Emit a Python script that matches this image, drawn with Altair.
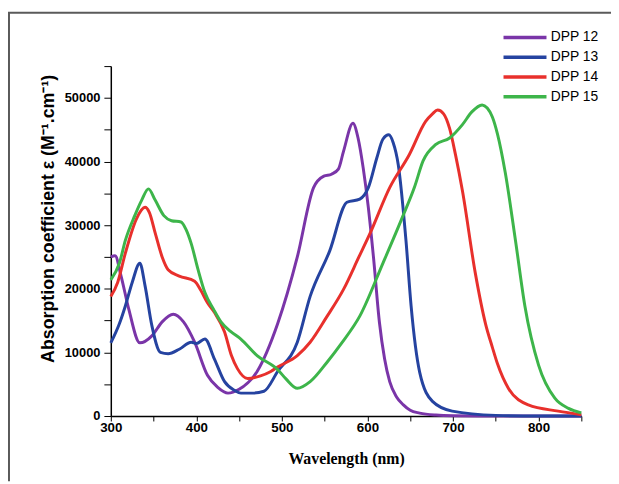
import altair as alt
import pandas as pd

# ---- data ----
wl_12 = [300, 305, 312, 321, 334, 348, 360, 373, 385, 398, 413, 425, 437, 450, 471, 495, 518, 537, 549, 558, 566, 572, 583, 589, 595, 601, 607, 614, 620, 626, 634, 642, 650, 661, 680, 700, 750, 800, 850]
ab_12 = [25000, 25200, 22000, 16800, 11500, 12600, 14800, 16000, 14800, 11600, 6400, 4500, 3600, 4200, 7000, 14500, 25000, 35900, 37700, 38000, 38800, 41600, 46000, 43700, 39000, 32800, 25000, 14700, 9000, 5400, 3000, 1760, 900, 460, 150, 50, 0, 0, 0]

wl_13 = [300, 310, 317, 325, 334, 340, 348, 358, 367, 380, 394, 400, 410, 421, 433, 445, 452, 465, 479, 495, 518, 533, 556, 576, 591, 601, 611, 618, 625, 630, 636, 645, 651, 661, 676, 699, 750, 800, 850]
ab_13 = [11500, 14500, 17300, 21000, 24000, 20500, 14200, 10000, 9800, 10500, 11600, 11400, 12100, 9000, 5400, 4000, 3600, 3600, 3900, 7000, 11600, 18800, 26000, 33600, 34100, 35900, 40600, 43500, 44200, 43000, 39500, 27600, 17300, 6900, 2300, 770, 100, 0, 0]

wl_14 = [300, 308, 317, 330, 340, 345, 352, 360, 367, 380, 398, 405, 413, 421, 433, 441, 448, 460, 475, 487, 495, 518, 533, 552, 572, 590, 603, 626, 649, 668, 676, 682, 689, 696, 703, 711, 726, 738, 746, 752, 765, 788, 823, 850]
ab_14 = [18800, 21000, 25600, 31000, 32800, 32000, 28700, 25000, 23000, 22000, 21200, 19800, 17800, 16300, 13200, 9500, 7450, 5900, 6300, 7000, 7700, 9500, 11600, 15500, 19900, 25000, 28700, 35900, 41100, 46300, 47500, 48100, 47500, 45200, 41000, 35400, 22500, 14500, 10800, 8200, 4300, 1750, 770, 200]

wl_15 = [300, 310, 317, 328, 336, 344, 352, 362, 371, 382, 388, 394, 402, 410, 420, 429, 440, 452, 471, 495, 505, 518, 533, 553, 570, 591, 618, 641, 655, 665, 680, 696, 711, 722, 734, 740, 746, 752, 761, 773, 784, 800, 819, 835, 850]
ab_15 = [21400, 24000, 27600, 31500, 33900, 35700, 33900, 31500, 30700, 30500, 29300, 27100, 23000, 19400, 16800, 14750, 13300, 12100, 9500, 7300, 5800, 4350, 5400, 8500, 11500, 15700, 24000, 31300, 36000, 40100, 42700, 43700, 45800, 47800, 48900, 48400, 47000, 44300, 38300, 27600, 17300, 8000, 2800, 1200, 500]

series_names = ["DPP 12", "DPP 13", "DPP 14", "DPP 15"]
series_colors = ["#7A35A8", "#2543A0", "#E8302C", "#3DB54A"]

x_ticks = list(range(300, 851, 50))
y_ticks = list(range(0, 55001, 5000))

rows = []
for name, wls, abs_ in zip(series_names, [wl_12, wl_13, wl_14, wl_15], [ab_12, ab_13, ab_14, ab_15]):
    for w, a in zip(wls, abs_):
        rows.append({"series": name, "wl": w, "abs": a})
df = pd.DataFrame(rows)

serif = "Liberation Serif"
sans = "Liberation Sans"

lines = alt.Chart(df).mark_line(strokeWidth=3, interpolate="monotone").encode(
    x=alt.X("wl:Q", scale=alt.Scale(domain=[300, 850], nice=False, zero=False),
            axis=alt.Axis(title="Wavelength (nm)", values=x_ticks,
                          labelExpr="datum.value % 100 == 0 ? datum.label : ''",
                          grid=False, tickSize=5, labelPadding=0, titlePadding=17,
                          labelFlush=False,
                          labelFont=sans, labelFontWeight="bold", labelFontSize=13.5,
                          titleFont=serif, titleFontWeight="bold", titleFontSize=16,
                          domainColor="#000", tickColor="#000", domainWidth=1.5, labelColor="#000", titleColor="#000")),
    y=alt.Y("abs:Q", scale=alt.Scale(domain=[0, 55000], nice=False),
            axis=alt.Axis(title="Absorption coefficient ε (M⁻¹.cm⁻¹)", values=y_ticks,
                          labelExpr="datum.value % 10000 == 0 ? format(datum.value, 'd') : ''",
                          grid=False, tickSize=7, labelPadding=4, titlePadding=7,
                          titleY=154,
                          labelFlush=False,
                          labelFont=sans, labelFontWeight="bold", labelFontSize=13,
                          titleFont=sans, titleFontWeight="bold", titleFontSize=18,
                          domainColor="#000", tickColor="#000", domainWidth=1.5, labelColor="#000", titleColor="#000")),
    color=alt.Color("series:N", scale=alt.Scale(domain=series_names, range=series_colors),
                    legend=alt.Legend(title=None, orient="none", legendX=410, legendY=-38,
                                      symbolType="M-3,0H3", symbolSize=210, symbolStrokeWidth=3.5,
                                      labelFont=sans, labelFontSize=14, labelColor="#000",
                                      rowPadding=4, labelOffset=17)),
    order=alt.Order("wl:Q"),
)

frame = pd.DataFrame({"k": [0]})
frame_top = alt.Chart(frame).mark_rule(color="#5a5a5a", strokeWidth=2).encode(
    x=alt.value(-104), x2=alt.value(520), y=alt.value(-54))
frame_left = alt.Chart(frame).mark_rule(color="#5a5a5a", strokeWidth=2).encode(
    x=alt.value(-103), y=alt.value(-54), y2=alt.value(420))

chart = alt.layer(lines, frame_top, frame_left).properties(
    width=476, height=354,
    padding={"left": 104, "top": 56, "right": 30, "bottom": 66},
    autosize=alt.AutoSizeParams(type="none"),
).configure_view(stroke=None)

chart.save("out.html", embed_options={"renderer": "svg", "actions": False})
